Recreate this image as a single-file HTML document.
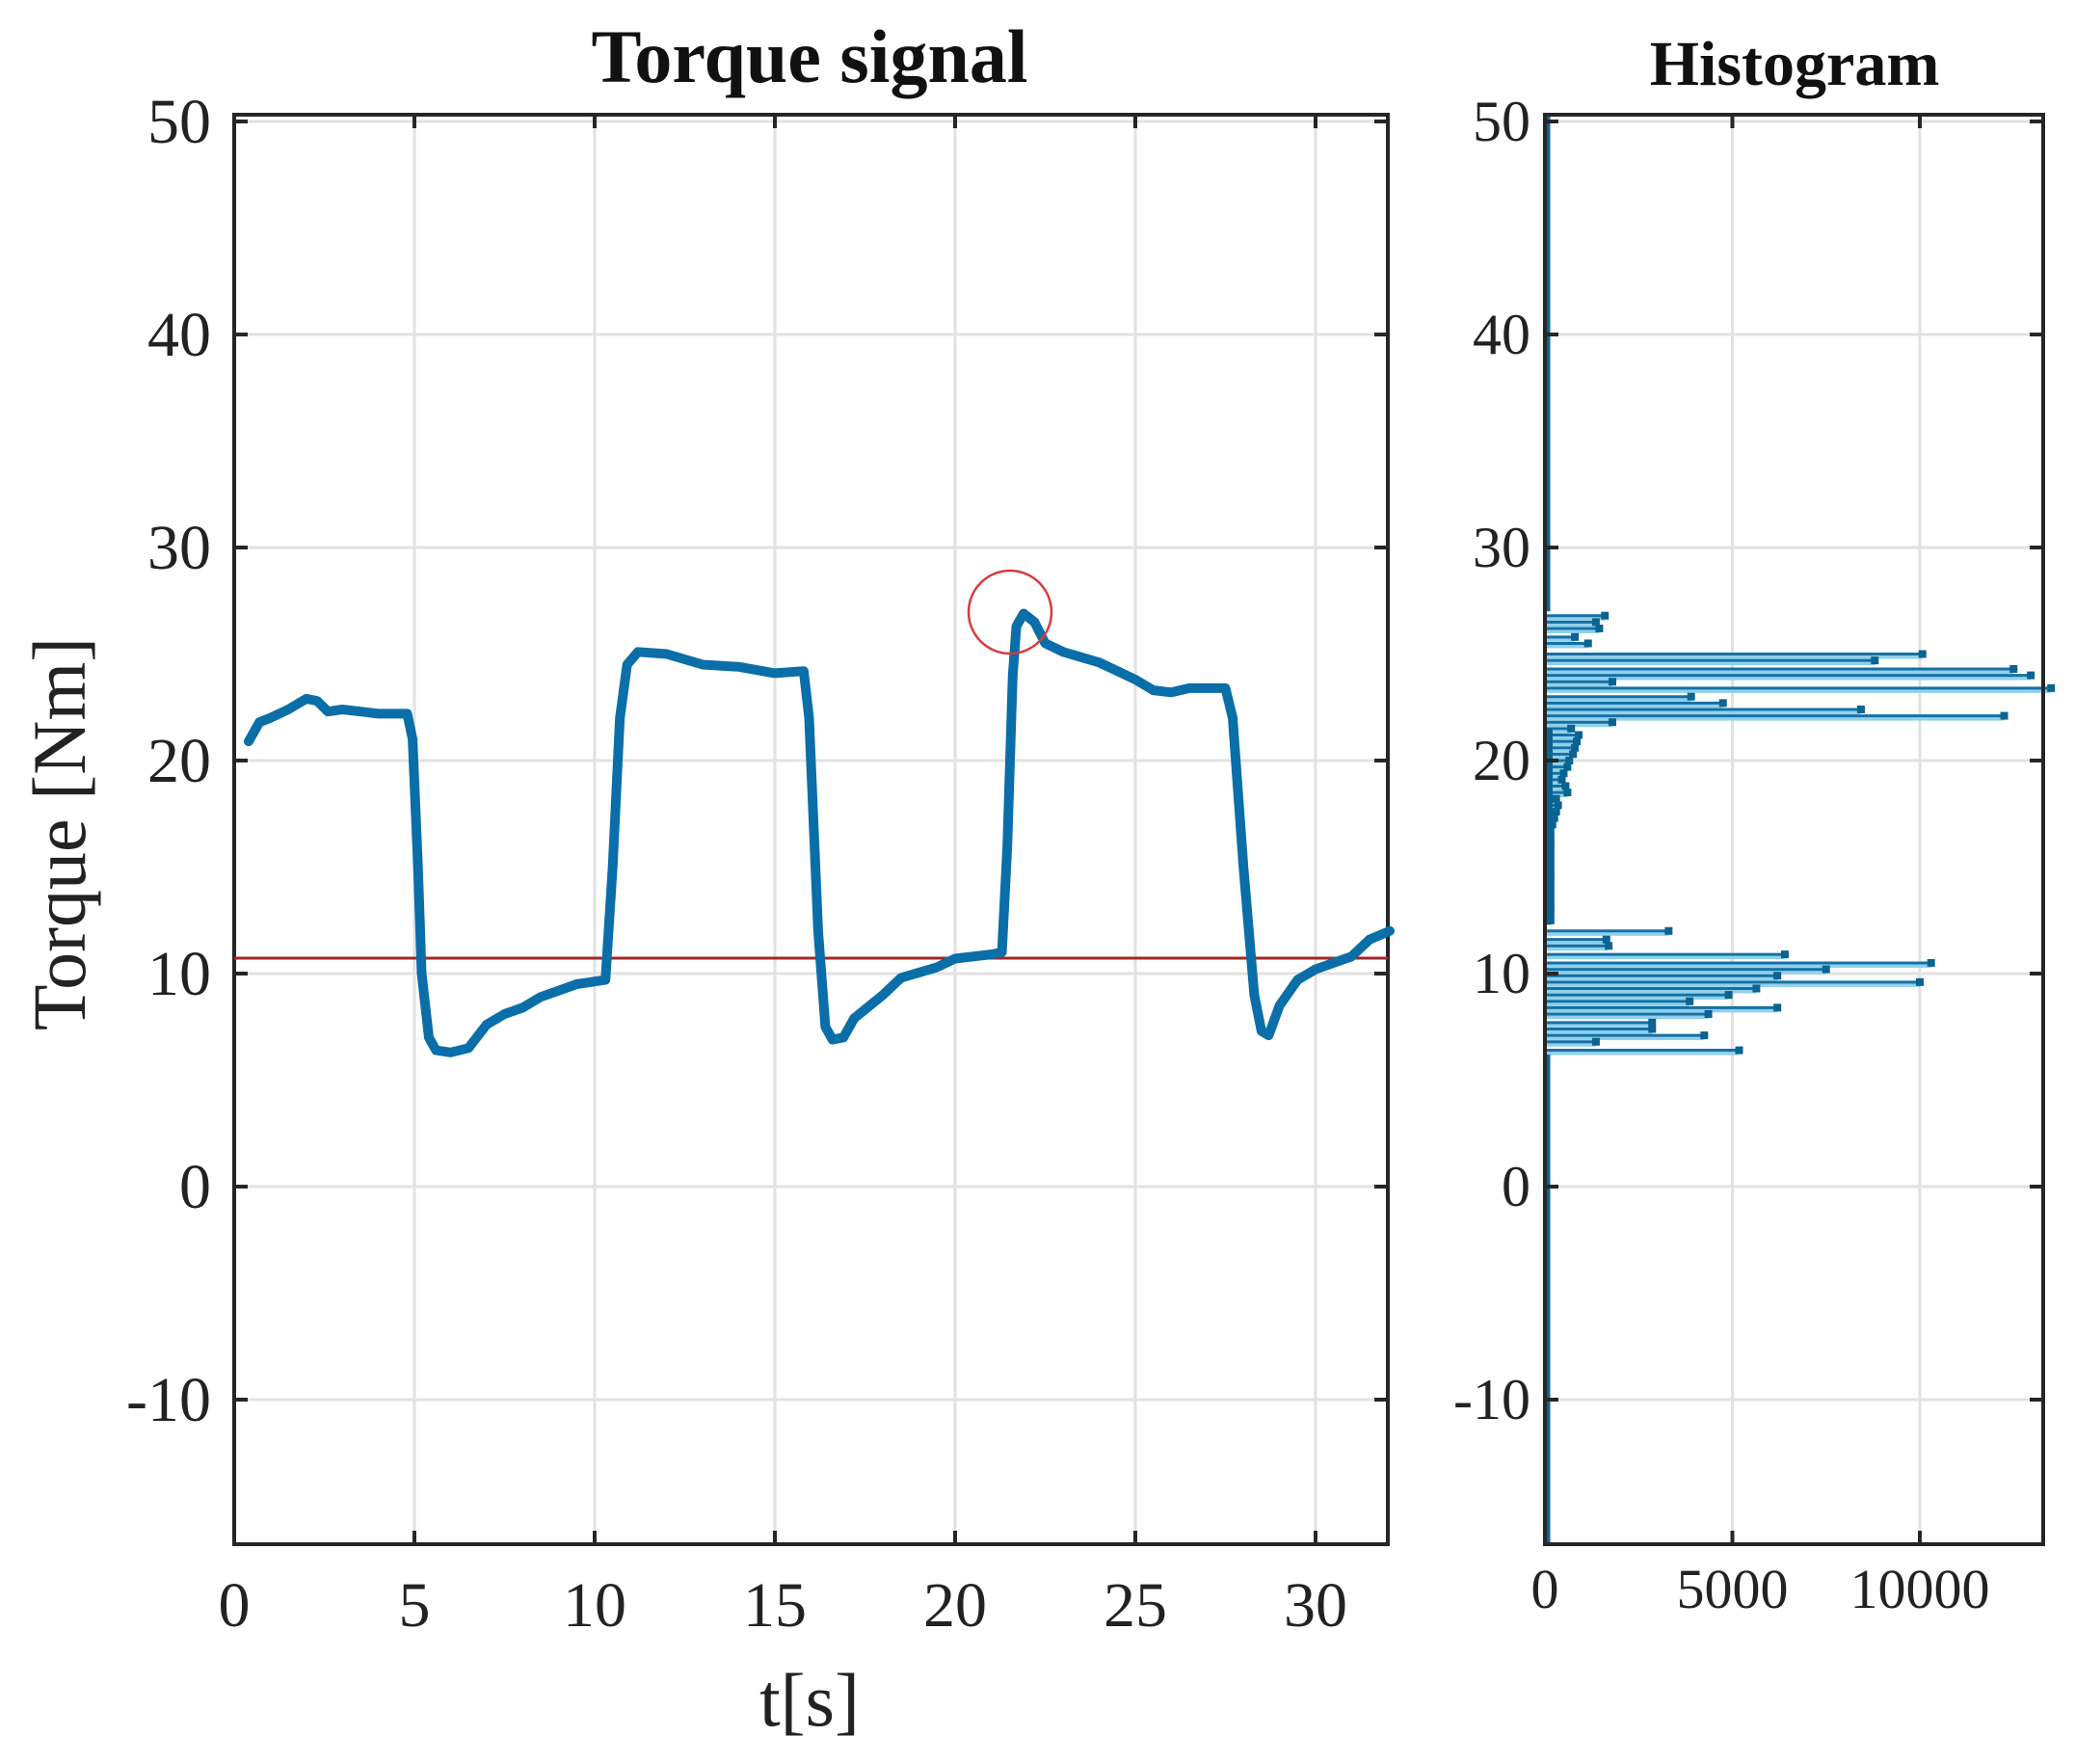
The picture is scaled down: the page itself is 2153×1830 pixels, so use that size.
<!DOCTYPE html>
<html><head><meta charset="utf-8"><style>
html,body{margin:0;padding:0;background:#fff;}
svg{display:block;}
text{font-family:"Liberation Serif",serif;fill:#222;}
</style></head><body>
<svg id="s" width="2153" height="1830" viewBox="0 0 2153 1830" xmlns="http://www.w3.org/2000/svg">
<rect width="2153" height="1830" fill="#fff"/>
<g id="grid" stroke="#e2e2e2" stroke-width="3"></g>
<g id="hist"></g>
<g id="axes" fill="none" stroke="#262626" stroke-width="4"></g>
<g id="labels"></g>
<line x1="243" y1="994" x2="1440" y2="994" stroke="#a3262a" stroke-width="3"/>
<polyline id="sig" fill="none" stroke="#0a6ea8" stroke-width="10" stroke-linejoin="round" stroke-linecap="round"/>
<circle cx="1048" cy="635" r="43" fill="none" stroke="#d83a3a" stroke-width="2.5"/>
<text x="840" y="85" font-size="78" font-weight="bold" text-anchor="middle" style="fill:#111">Torque signal</text>
<text x="1862" y="88" font-size="66" font-weight="bold" text-anchor="middle" style="fill:#111">Histogram</text>
<text x="840" y="1790" font-size="78" text-anchor="middle">t[s]</text>
<text transform="translate(88,865) rotate(-90)" font-size="78" text-anchor="middle">Torque [Nm]</text>
</svg>
<script>
var NS="http://www.w3.org/2000/svg";
function el(p,t,a,txt){var e=document.createElementNS(NS,t);for(var k in a)e.setAttribute(k,a[k]);if(txt!==undefined)e.textContent=txt;document.getElementById(p).appendChild(e);return e;}
var L=243,R=1440,T=119,B=1602,HL=1603,HR=2120;
function Y(v){return 1231-22.1*v;}
function X(t){return L+37.4*t;}
function H(c){return HL+0.0389*c;}
[-10,0,10,20,30,40,50].forEach(function(v){
 el('grid','line',{x1:L,x2:R,y1:Y(v),y2:Y(v)});
 el('grid','line',{x1:HL,x2:HR,y1:Y(v),y2:Y(v)});
 el('axes','line',{x1:L,x2:L+14,y1:Y(v),y2:Y(v)});
 el('axes','line',{x1:R-14,x2:R,y1:Y(v),y2:Y(v)});
 el('axes','line',{x1:HL,x2:HL+14,y1:Y(v),y2:Y(v)});
 el('axes','line',{x1:HR-14,x2:HR,y1:Y(v),y2:Y(v)});
 el('labels','text',{x:219,y:Y(v)+22,'font-size':66,'text-anchor':'end'},String(v));
 el('labels','text',{x:1588,y:Y(v)+20,'font-size':60,'text-anchor':'end'},String(v));
});
[0,5,10,15,20,25,30].forEach(function(t){
 el('grid','line',{x1:X(t),x2:X(t),y1:T,y2:B});
 el('axes','line',{x1:X(t),x2:X(t),y1:B-14,y2:B});
 el('axes','line',{x1:X(t),x2:X(t),y1:T,y2:T+14});
 el('labels','text',{x:X(t),y:1687,'font-size':66,'text-anchor':'middle'},String(t));
});
[5000,10000].forEach(function(c){
 el('grid','line',{x1:H(c),x2:H(c),y1:T,y2:B});
 el('axes','line',{x1:H(c),x2:H(c),y1:B-14,y2:B});
 el('axes','line',{x1:H(c),x2:H(c),y1:T,y2:T+14});
 el('labels','text',{x:H(c),y:1668,'font-size':58,'text-anchor':'middle'},String(c));
});
el('labels','text',{x:HL,y:1668,'font-size':58,'text-anchor':'middle'},'0');
el('axes','rect',{x:L,y:T,width:R-L,height:B-T});
el('axes','rect',{x:HL,y:T,width:HR-HL,height:B-T});
var d=[[0.4,20.9],[0.7,21.8],[1,22],[1.5,22.4],[2,22.9],[2.3,22.8],[2.6,22.3],[3,22.4],[4,22.2],[4.8,22.2],[4.95,21],[5.1,15],[5.2,10],[5.4,7],[5.6,6.4],[6,6.3],[6.5,6.5],[7,7.6],[7.5,8.1],[8,8.4],[8.5,8.9],[9,9.2],[9.5,9.5],[10.3,9.7],[10.5,15],[10.7,22],[10.9,24.5],[11.2,25.1],[12,25],[13,24.5],[14,24.4],[15,24.1],[15.8,24.2],[15.95,22],[16.2,12],[16.4,7.5],[16.6,6.9],[16.9,7],[17.2,7.9],[18,9],[18.5,9.8],[19.5,10.3],[20,10.7],[21,10.9],[21.3,11],[21.45,16],[21.6,24],[21.7,26.3],[21.9,26.9],[22.2,26.5],[22.5,25.5],[23,25.1],[24,24.6],[25,23.8],[25.5,23.3],[26,23.2],[26.5,23.4],[27.5,23.4],[27.7,22],[28,15],[28.3,9],[28.5,7.3],[28.7,7.1],[29,8.5],[29.5,9.7],[30,10.2],[31,10.8],[31.5,11.6],[32.06,12]];
document.getElementById('sig').setAttribute('points',d.map(function(p){return X(p[0]).toFixed(1)+','+Y(p[1]).toFixed(1);}).join(' '));
var h=[[26.8,1600],[26.5,1360],[26.2,1450],[25.8,800],[25.5,1150],[25.0,10070],[24.7,8800],[24.3,12500],[24.0,12960],[23.7,1800],[23.4,13500],[23.0,3900],[22.7,4750],[22.4,8430],[22.1,12250],[21.8,1800],[21.5,700],[21.2,900],[20.9,850],[20.6,800],[20.3,750],[20.0,650],[19.7,600],[19.4,500],[19.1,450],[18.8,550],[18.5,600],[18.2,300],[17.9,350],[17.6,300],[17.3,250],[17.0,200],[16.7,150],[16.4,150],[16.1,150],[15.8,150],[15.5,150],[15.2,150],[14.9,150],[14.6,150],[14.3,150],[14.0,150],[13.7,150],[13.4,150],[13.1,150],[12.8,150],[12.5,150],[12.0,3300],[11.6,1640],[11.3,1700],[10.9,6400],[10.5,10300],[10.2,7500],[9.9,6200],[9.6,10000],[9.3,5640],[9.0,4900],[8.7,3860],[8.4,6200],[8.1,4360],[7.7,2860],[7.4,2860],[7.1,4250],[6.8,1360],[6.4,5180]];
h.forEach(function(b){
 var y=Y(b[0]);
 el('hist','rect',{x:HL,y:y,width:H(b[1])-HL,height:5,fill:'#8fd0ec'});
 el('hist','line',{x1:HL,x2:H(b[1]),y1:y,y2:y,stroke:'#1570a3','stroke-width':3});
 el('hist','rect',{x:H(b[1])-4,y:y-4,width:8,height:8,fill:'#0b6391'});
});
el('hist','line',{x1:HL+2,x2:HL+2,y1:T,y2:Y(27),stroke:'#0b6391','stroke-width':7});
el('hist','line',{x1:HL+2,x2:HL+2,y1:Y(6.2),y2:B,stroke:'#0b6391','stroke-width':7});
el('hist','line',{x1:HL+4,x2:HL+4,y1:Y(21.5),y2:Y(12.3),stroke:'#0b6391','stroke-width':8});
</script>
</body></html>
